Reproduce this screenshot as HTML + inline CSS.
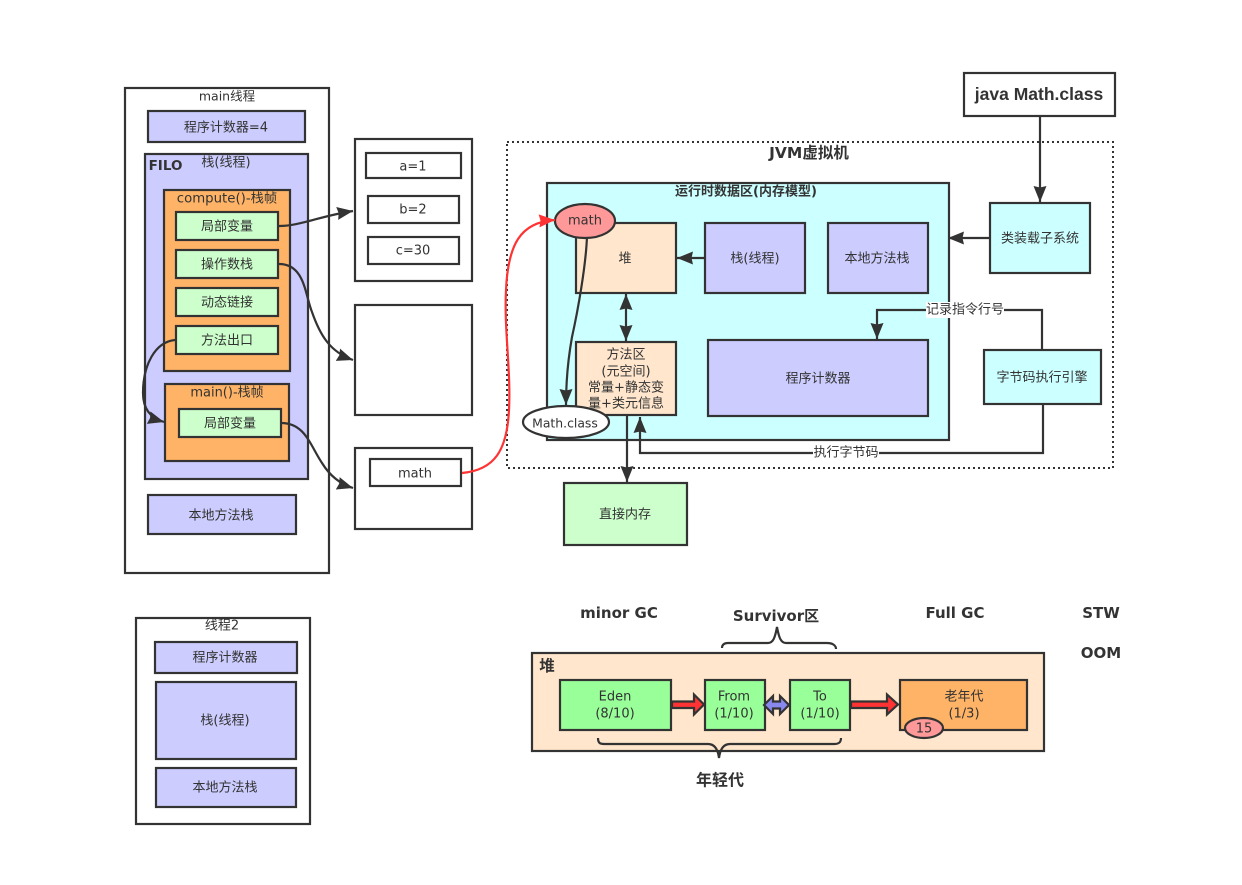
<!DOCTYPE html>
<html><head><meta charset="utf-8"><style>
html,body{margin:0;padding:0;background:#fff}
svg{display:block}
text{font-family:"DejaVu Sans","Noto Sans CJK SC",sans-serif;font-size:13px;fill:#333;text-anchor:middle;dominant-baseline:central}
.b{font-family:"DejaVu Sans","Noto Sans CJK SC",sans-serif;font-weight:bold}
.r{stroke:#333;stroke-width:2.2}
.l{fill:none;stroke:#333;stroke-width:2.2}
</style></head><body>
<svg width="1242" height="885" viewBox="0 0 1242 885" xmlns="http://www.w3.org/2000/svg">
<defs>
<marker id="a" markerUnits="userSpaceOnUse" markerWidth="18" markerHeight="14" refX="16" refY="7" orient="auto"><path d="M0 0.5L16 7L0 13.5L1.5 7Z" fill="#333"/></marker>
<marker id="s" markerUnits="userSpaceOnUse" markerWidth="18" markerHeight="14" refX="16" refY="7" orient="auto-start-reverse"><path d="M0 0.5L16 7L0 13.5L1.5 7Z" fill="#333"/></marker>
<marker id="red" markerUnits="userSpaceOnUse" markerWidth="18" markerHeight="14" refX="16" refY="7" orient="auto"><path d="M0 0.5L16 7L0 13.5L1.5 7Z" fill="#f33"/></marker>
</defs>

<!-- main thread -->
<rect class="r" x="125" y="88" width="204" height="485" fill="#fff"/>
<text x="227" y="96" style="font-size:12.5px">main线程</text>
<rect class="r" x="148" y="111" width="157" height="31" fill="#ccf"/>
<text x="226" y="128">程序计数器=4</text>
<rect class="r" x="145" y="154" width="163" height="325" fill="#ccf"/>
<text x="226" y="163">栈(线程)</text>
<text class="b" x="165.500" y="166" style="font-size:13.5px;font-weight:bold">FILO</text>
<rect class="r" x="164" y="190" width="126" height="181" fill="#ffb366"/>
<text x="227" y="199" style="font-size:13.3px">compute()-栈帧</text>
<rect class="r" x="176" y="212" width="102" height="28" fill="#cfc"/>
<text x="227" y="227">局部变量</text>
<rect class="r" x="176" y="250" width="102" height="28" fill="#cfc"/>
<text x="227" y="265">操作数栈</text>
<rect class="r" x="176" y="288" width="102" height="28" fill="#cfc"/>
<text x="227" y="303">动态链接</text>
<rect class="r" x="176" y="326" width="102" height="28" fill="#cfc"/>
<text x="227" y="341">方法出口</text>
<rect class="r" x="165" y="384" width="124" height="77" fill="#ffb366"/>
<text x="227" y="393">main()-栈帧</text>
<rect class="r" x="179" y="409" width="102" height="28" fill="#cfc"/>
<text x="230" y="424">局部变量</text>
<rect class="r" x="148" y="495" width="148" height="39" fill="#ccf"/>
<text x="221" y="516">本地方法栈</text>

<!-- memory boxes -->
<rect class="r" x="355" y="139" width="117" height="142" fill="#fff"/>
<rect class="r" x="366" y="153" width="95" height="25" fill="#fff"/>
<text x="413" y="167">a=1</text>
<rect class="r" x="368" y="196" width="91" height="27" fill="#fff"/>
<text x="413" y="210">b=2</text>
<rect class="r" x="368" y="237" width="91" height="27" fill="#fff"/>
<text x="413" y="251">c=30</text>
<rect class="r" x="355" y="305" width="117" height="110" fill="#fff"/>
<rect class="r" x="355" y="448" width="117" height="81" fill="#fff"/>
<rect class="r" x="370" y="459" width="91" height="27" fill="#fff"/>
<text x="415" y="474">math</text>

<!-- JVM -->
<rect x="507" y="142" width="606" height="326" fill="none" stroke="#333" stroke-width="2" stroke-dasharray="2 3"/>
<text class="b" x="809" y="153" style="font-size:15.5px;font-weight:bold">JVM虚拟机</text>
<rect class="r" x="547" y="183" width="402" height="257" fill="#cff"/>
<text class="b" x="746" y="192" style="font-size:13px;font-weight:bold">运行时数据区(内存模型)</text>
<rect class="r" x="576" y="223" width="100" height="70" fill="#ffe6cc"/>
<text x="625" y="259">堆</text>
<rect class="r" x="705" y="223" width="100" height="70" fill="#ccf"/>
<text x="755" y="259">栈(线程)</text>
<rect class="r" x="828" y="223" width="100" height="70" fill="#ccf"/>
<text x="877" y="259">本地方法栈</text>
<rect class="r" x="576" y="342" width="100" height="73" fill="#ffe6cc"/>
<text x="626" y="355">方法区</text>
<text x="626" y="372">(元空间)</text>
<text x="626" y="388">常量+静态变</text>
<text x="626" y="404">量+类元信息</text>
<rect class="r" x="708" y="340" width="220" height="76" fill="#ccf"/>
<text x="818" y="379">程序计数器</text>

<path class="l" d="M705 258H677" marker-end="url(#a)"/>
<path class="l" d="M626 294V341" marker-start="url(#s)" marker-end="url(#s)"/>
<path class="l" d="M587 236C586 265 578 310 572 337C567 365 566 385 566 405" marker-end="url(#a)"/>
<ellipse class="r" cx="585" cy="221" rx="30" ry="17" fill="#f99"/>
<text x="585" y="221">math</text>
<ellipse class="r" cx="566" cy="422" rx="43" ry="16" fill="#fff"/>
<text x="565" y="423" style="font-size:12.4px">Math.class</text>

<rect class="r" x="990" y="203" width="100" height="70" fill="#cff"/>
<text x="1040" y="239">类装载子系统</text>
<rect class="r" x="984" y="350" width="117" height="54" fill="#cff"/>
<text x="1042" y="378">字节码执行引擎</text>
<rect class="r" x="964" y="73" width="151" height="43" fill="#fff"/>
<text x="1039" y="94" style="font-family:'Liberation Sans',sans-serif;font-size:17.5px;font-weight:bold">java Math.class</text>
<rect class="r" x="564" y="483" width="123" height="62" fill="#cfc"/>
<text x="625" y="515">直接内存</text>

<path class="l" d="M1040 116V202" marker-end="url(#a)"/>
<path class="l" d="M990 238H948" marker-end="url(#a)"/>
<path class="l" d="M1042 350V310H877V339" marker-end="url(#a)"/>
<rect x="926" y="302" width="78" height="16" fill="#fff"/>
<text x="965" y="310">记录指令行号</text>
<path class="l" d="M1043 404V453H640V417" marker-end="url(#a)"/>
<rect x="813" y="446" width="66" height="16" fill="#fff"/>
<text x="846" y="453">执行字节码</text>
<path class="l" d="M627 416V482" marker-end="url(#a)"/>

<!-- curved arrows -->
<path class="l" d="M279 226C300 226 320 216 353 211" marker-end="url(#a)"/>
<path class="l" d="M279 264C305 264 305 295 312 312C320 335 330 352 353 360" marker-end="url(#a)"/>
<path class="l" d="M281 423C305 423 310 445 322 463C330 476 340 484 353 488" marker-end="url(#a)"/>
<path class="l" d="M175 340C155 342 143 365 143 393C143 408 150 418 164 422" marker-end="url(#a)"/>
<path d="M462 473C495 470 507 450 509 410C511 370 504 330 506 290C508 245 520 222 555 220" fill="none" stroke="#f33" stroke-width="2.2" marker-end="url(#red)"/>

<!-- thread 2 -->
<rect class="r" x="136" y="618" width="174" height="206" fill="#fff"/>
<text x="222" y="626">线程2</text>
<rect class="r" x="155" y="642" width="142" height="31" fill="#ccf"/>
<text x="225" y="658">程序计数器</text>
<rect class="r" x="156" y="682" width="140" height="77" fill="#ccf"/>
<text x="225" y="721">栈(线程)</text>
<rect class="r" x="156" y="768" width="140" height="39" fill="#ccf"/>
<text x="225" y="788">本地方法栈</text>

<!-- heap -->
<text class="b" x="619" y="613" style="font-size:15px;font-weight:bold">minor GC</text>
<text class="b" x="776" y="616" style="font-size:15px;font-weight:bold">Survivor区</text>
<text class="b" x="955" y="613" style="font-size:15px;font-weight:bold">Full GC</text>
<text class="b" x="1101" y="613" style="font-size:15px;font-weight:bold">STW</text>
<text class="b" x="1101" y="653" style="font-size:15px;font-weight:bold">OOM</text>
<rect class="r" x="532" y="653" width="512" height="98" fill="#ffe6cc"/>
<text class="b" x="547" y="666" style="font-size:15.5px;font-weight:bold">堆</text>
<rect class="r" x="560" y="680" width="111" height="50" fill="#9f9"/>
<text x="615" y="697">Eden</text><text x="615" y="714">(8/10)</text>
<rect class="r" x="705" y="680" width="60" height="50" fill="#9f9"/>
<text x="734" y="697">From</text><text x="734" y="714">(1/10)</text>
<rect class="r" x="790" y="680" width="60" height="50" fill="#9f9"/>
<text x="820" y="697">To</text><text x="820" y="714">(1/10)</text>
<rect class="r" x="900" y="680" width="127" height="50" fill="#ffb366"/>
<text x="964" y="697">老年代</text><text x="964" y="714">(1/3)</text>
<path class="r" d="M672 701.500H694V694.500L704 704.500L694 714.500V708H672Z" fill="#f33"/>
<path class="r" d="M851 701.500H887V694.500L898 704.500L887 714.500V708H851Z" fill="#f33"/>
<path class="r" d="M764 705L773 696V701.500H780V696L789 705L780 714V708.500H773V714Z" fill="#88e"/>
<ellipse class="r" cx="924" cy="728" rx="19" ry="10" fill="#f99"/>
<text x="924" y="729">15</text>
<path class="l" d="M598 738C598 743 600 744 604 744H708C715 744 718 750 719 758C720 750 723 744 730 744H834C838 744 841 743 841 738"/>
<text class="b" x="720" y="780" style="font-size:16px;font-weight:bold">年轻代</text>
<path class="l" d="M722 648C722 645 724 643 728 643H768C773 643 775 638 777 627C779 638 781 643 786 643H827C832 643 836 645 836 649"/>
</svg>
</body></html>
